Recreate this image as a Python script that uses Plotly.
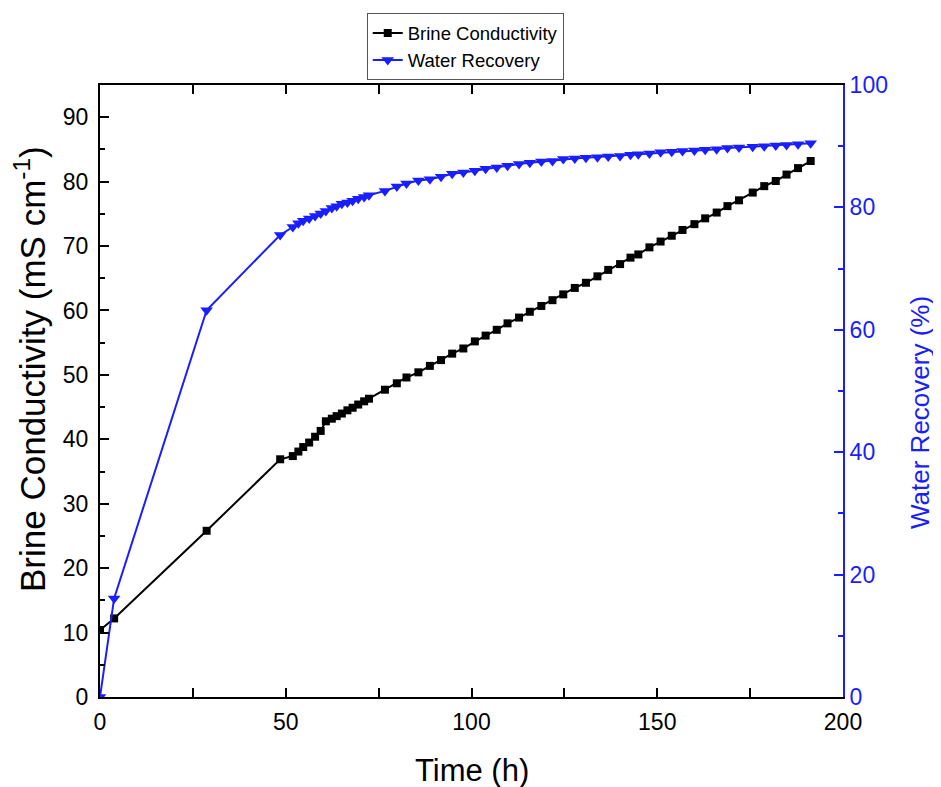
import plotly.graph_objects as go

time_h = [0, 3.8, 28.7, 48.5, 51.9, 53.4, 54.7, 56.3, 57.9, 59.4, 60.8, 62.4, 63.7, 65.1,
          66.6, 68.0, 69.5, 71.1, 72.4, 76.7, 79.9, 82.5, 85.7, 88.8, 91.8, 94.8, 97.8,
          100.9, 103.8, 106.8, 109.7, 112.8, 115.7, 118.8, 121.8, 124.7, 127.8, 130.8,
          133.9, 136.8, 140.0, 142.8, 144.9, 147.9, 150.9, 153.9, 156.8, 160.0, 162.9,
          166.0, 168.9, 172.0, 175.7, 178.8, 181.9, 184.8, 187.9, 191.3]

brine_conductivity = [10.4, 12.2, 25.8, 36.9, 37.4, 38.1, 38.8, 39.5, 40.4, 41.3,
                      42.8, 43.2, 43.6, 44.0, 44.5, 44.9, 45.4, 45.9, 46.3, 47.7,
                      48.7, 49.6, 50.4, 51.4, 52.3, 53.3, 54.1, 55.2, 56.1, 57.0,
                      58.0, 58.9, 59.8, 60.7, 61.6, 62.5, 63.5, 64.3, 65.3, 66.3,
                      67.2, 68.2, 68.7, 69.8, 70.7, 71.6, 72.5, 73.4, 74.3, 75.2,
                      76.2, 77.1, 78.3, 79.3, 80.1, 81.1, 82.1, 83.2]

water_recovery = [0, 16.1, 63.2, 75.5, 76.8, 77.4, 77.8, 78.2, 78.6, 79.0,
                  79.4, 79.9, 80.2, 80.6, 80.8, 81.1, 81.4, 81.7, 82.0, 82.7,
                  83.4, 83.9, 84.4, 84.6, 85.0, 85.5, 85.7, 86.0, 86.3, 86.5,
                  86.8, 87.1, 87.3, 87.5, 87.6, 87.9, 88.0, 88.1, 88.2, 88.3,
                  88.4, 88.6, 88.7, 88.8, 89.0, 89.1, 89.2, 89.3, 89.4, 89.5,
                  89.7, 89.8, 89.9, 90.0, 90.1, 90.2, 90.3, 90.5]

x_title = "Time (h)"
y_title = "Brine Conductivity (mS cm<sup>-1</sup>)"
y2_title = "Water Recovery (%)"

BLUE = "rgb(25,30,255)"
FONT = "Liberation Sans, Arial, sans-serif"

fig = go.Figure()
fig.add_trace(go.Scatter(
    x=time_h, y=brine_conductivity, name="Brine Conductivity",
    mode="lines+markers", line=dict(color="black", width=2),
    marker=dict(symbol="square", size=8, color="black"), yaxis="y"))
fig.add_trace(go.Scatter(
    x=time_h, y=water_recovery, name="Water Recovery",
    mode="lines+markers", line=dict(color=BLUE, width=2),
    marker=dict(symbol="triangle-down", size=11, color=BLUE), yaxis="y2"))

fig.update_layout(
    width=941, height=787,
    margin=dict(l=92, r=106, t=77, b=98, autoexpand=False),
    plot_bgcolor="white", paper_bgcolor="white",
    font=dict(family=FONT, size=22, color="black"),
    showlegend=True,
    legend=dict(x=0.359, y=1.117, xanchor="left", yanchor="top",
                bordercolor="#555", borderwidth=1, bgcolor="white",
                font=dict(size=18.5, color="black"), tracegroupgap=0),
    xaxis=dict(range=[0, 200], dtick=50, tick0=0, showgrid=False, zeroline=False,
               showline=True, linecolor="black", linewidth=2, mirror="allticks",
               ticks="inside", ticklen=9, tickwidth=2, tickcolor="black",
               ticklabelstandoff=3, automargin=False,
               minor=dict(dtick=25, ticks="inside", ticklen=5, tickwidth=2, tickcolor="black"),
               tickfont=dict(size=23)),
    yaxis=dict(range=[0, 95], dtick=10, tick0=0, showgrid=False, zeroline=False,
               showline=True, linecolor="black", linewidth=2,
               ticks="inside", ticklen=9, tickwidth=2, tickcolor="black",
               ticklabelstandoff=5, automargin=False,
               minor=dict(dtick=5, ticks="inside", ticklen=5, tickwidth=2, tickcolor="black"),
               tickfont=dict(size=23)),
    yaxis2=dict(range=[0, 100], dtick=20, tick0=0, overlaying="y", side="right",
                showgrid=False, zeroline=False, automargin=False,
                showline=True, linecolor=BLUE, linewidth=2,
                ticks="inside", ticklen=9, tickwidth=2, tickcolor=BLUE,
                minor=dict(dtick=10, ticks="inside", ticklen=5, tickwidth=2, tickcolor=BLUE),
                tickfont=dict(size=23, color=BLUE)),
    annotations=[
        dict(text=x_title, xref="paper", yref="paper", x=0.5, y=0,
             xanchor="center", yanchor="middle", yshift=-73, showarrow=False,
             font=dict(size=31, color="black")),
        dict(text=y_title, xref="paper", yref="paper", x=0, y=0.5 + 22 / 612,
             xanchor="center", yanchor="middle", xshift=-70, textangle=-90,
             showarrow=False, font=dict(size=35, color="black")),
        dict(text=y2_title, xref="paper", yref="paper", x=1, y=0.5 - 22 / 612,
             xanchor="center", yanchor="middle", xshift=77, textangle=-90,
             showarrow=False, font=dict(size=26, color=BLUE)),
    ],
)

fig.write_html("out.html")
